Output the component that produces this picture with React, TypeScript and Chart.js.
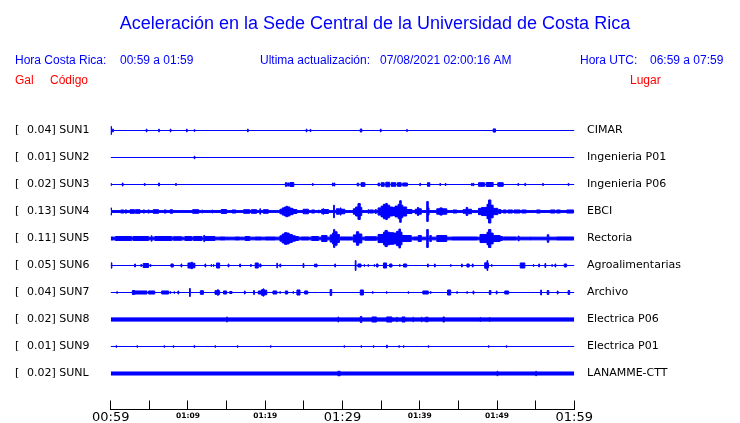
import React, { useEffect, useRef } from 'react';
import { Chart, registerables } from 'chart.js';

Chart.register(...registerables);

// ---------- text ----------
const TITLE = 'Aceleración en la Sede Central de la Universidad de Costa Rica';
const CR_LABEL = 'Hora Costa Rica:';
const CR_RANGE = '00:59 a 01:59';
const UPD_LABEL = 'Ultima actualización:';
const UPD_VALUE = '07/08/2021 02:00:16 AM';
const UTC_LABEL = 'Hora UTC:';
const UTC_RANGE = '06:59 a 07:59';
const COL_GAL = 'Gal';
const COL_CODE = 'Código';
const COL_PLACE = 'Lugar';

// ---------- stations ----------
const codes = ['SUN1', 'SUN2', 'SUN3', 'SUN4', 'SUN5', 'SUN6', 'SUN7', 'SUN8', 'SUN9', 'SUNL'];
const places = ['CIMAR', 'Ingenieria P01', 'Ingenieria P06', 'EBCI', 'Rectoria', 'Agroalimentarias', 'Archivo', 'Electrica P06', 'Electrica P01', 'LANAMME-CTT'];
const maxGal = [0.04, 0.01, 0.02, 0.13, 0.11, 0.05, 0.04, 0.02, 0.01, 0.02];
// background noise level (Gal, half amplitude)
const noiseGal = [0, 0, 0, 0.01, 0.015, 0, 0, 0.018, 0, 0.017];

// ---------- time axis (minutes from 00:59) ----------
const timeTicks = [0, 5, 10, 15, 20, 25, 30, 35, 40, 45, 50, 55, 60];
const timeTickLabels = ['00:59', '', '01:09', '', '01:19', '', '01:29', '', '01:39', '', '01:49', '', '01:59'];
const majorTicks = ['00:59', '01:29', '01:59'];

// ---------- amplitude envelopes: [start minute, end minute, half amplitude Gal] ----------
const sun1: number[][] = [[0, 0.1, 0.045], [0.2, 0.35, 0.015], [4.6, 4.7, 0.015], [6.2, 6.3, 0.015], [7.7, 7.8, 0.015], [9.8, 9.9, 0.015], [10.8, 10.9, 0.01], [17.7, 17.8, 0.015], [25.3, 25.4, 0.015], [25.8, 25.9, 0.012], [32.3, 32.5, 0.017], [34.9, 35, 0.015], [38.3, 38.4, 0.01], [49.5, 49.8, 0.018]];
const sun2: number[][] = [[10.8, 10.9, 0.014]];
const sun3: number[][] = [[0, 0.1, 0.011], [1.5, 1.6, 0.017], [4.35, 4.45, 0.011], [6.2, 6.3, 0.017], [8.4, 8.5, 0.011], [22.6, 22.8, 0.02], [22.9, 23.1, 0.017], [23.2, 23.7, 0.022], [26.1, 26.2, 0.011], [28.7, 28.8, 0.017], [28.9, 29, 0.017], [31.9, 32.1, 0.015], [32.4, 32.9, 0.02], [34.6, 34.8, 0.015], [35.0, 35.4, 0.02], [35.6, 36.1, 0.025], [36.3, 36.9, 0.02], [37.1, 37.6, 0.02], [37.8, 38.4, 0.017], [40, 40.1, 0.013], [41, 41.3, 0.02], [42.6, 42.7, 0.011], [43.3, 43.4, 0.011], [46.7, 46.8, 0.013], [46.9, 47, 0.013], [47.6, 48.4, 0.02], [48.6, 49.5, 0.022], [50.1, 50.8, 0.02], [52.7, 52.8, 0.011], [53.6, 53.7, 0.013], [55.9, 56, 0.011], [59.2, 59.3, 0.011]];
const sun4: number[][] = [[0, 0.1, 0.04], [1.3, 1.7, 0.017], [1.85, 2.1, 0.017], [2.5, 3.1, 0.02], [3.2, 3.8, 0.02], [4.2, 4.4, 0.017], [4.8, 5.0, 0.017], [5.5, 6.2, 0.02], [6.9, 7.2, 0.017], [7.7, 8.0, 0.02], [9.2, 9.3, 0.013], [10.6, 11.4, 0.02], [11.8, 11.9, 0.017], [13.1, 13.2, 0.017], [14.3, 15.0, 0.022], [15.7, 16.2, 0.017], [17.2, 18.0, 0.02], [18.2, 18.9, 0.02], [19.3, 19.4, 0.03], [19.75, 20.4, 0.02], [21.5, 21.6, 0.013], [21.9, 22.2, 0.025], [22.2, 22.5, 0.04], [22.5, 22.7, 0.05], [22.7, 22.9, 0.058], [22.9, 23.2, 0.05], [23.2, 23.6, 0.035], [23.6, 24.1, 0.022], [24.9, 25.6, 0.025], [26.0, 26.4, 0.017], [26.9, 27.0, 0.017], [27.3, 27.5, 0.025], [27.5, 27.6, 0.03], [27.6, 28.2, 0.022], [28.85, 28.95, 0.07], [29.2, 29.6, 0.03], [29.7, 29.8, 0.04], [29.8, 30.3, 0.025], [31.4, 31.7, 0.03], [31.7, 32.0, 0.05], [32.0, 32.3, 0.088], [32.3, 32.5, 0.045], [33.3, 33.4, 0.02], [33.5, 34.0, 0.017], [34.2, 34.4, 0.02], [34.6, 35.0, 0.04], [35.0, 35.3, 0.06], [35.3, 35.6, 0.08], [35.6, 35.8, 0.09], [35.8, 36.1, 0.07], [36.1, 36.5, 0.05], [36.5, 36.8, 0.045], [36.8, 37.2, 0.06], [37.2, 37.4, 0.08], [37.4, 37.6, 0.12], [37.6, 37.8, 0.07], [37.8, 38.3, 0.05], [38.3, 39.0, 0.022], [39.4, 39.7, 0.025], [39.7, 39.85, 0.045], [39.85, 40.2, 0.03], [40.9, 41.1, 0.11], [41.1, 41.2, 0.04], [42.2, 42.6, 0.03], [42.6, 42.9, 0.04], [42.9, 43.5, 0.03], [44.3, 44.8, 0.017], [45.6, 46.0, 0.02], [46.0, 46.2, 0.045], [46.2, 46.7, 0.025], [47.6, 48.0, 0.035], [48.0, 48.7, 0.045], [48.7, 48.9, 0.08], [48.9, 49.2, 0.128], [49.2, 49.5, 0.07], [49.5, 50.1, 0.035], [50.2, 50.5, 0.022], [50.8, 51.2, 0.017], [51.4, 52.0, 0.017], [52.2, 53.0, 0.017], [53.2, 53.8, 0.017], [55.1, 55.6, 0.017], [56.9, 57.5, 0.017], [57.7, 58.2, 0.017], [59.0, 59.9, 0.017]];
const sun5: number[][] = [[0, 0.3, 0.017], [0.6, 2.7, 0.022], [2.9, 4.9, 0.022], [5.25, 5.35, 0.03], [5.7, 7.9, 0.022], [8.1, 9.2, 0.02], [9.6, 10.5, 0.022], [10.7, 11.8, 0.022], [12.05, 12.15, 0.035], [12.2, 13.5, 0.022], [14.1, 14.8, 0.017], [15.0, 15.1, 0.017], [16.1, 16.7, 0.017], [17.4, 18.0, 0.022], [18.7, 19.5, 0.017], [20.0, 21.3, 0.017], [21.9, 22.2, 0.03], [22.2, 22.5, 0.05], [22.5, 22.8, 0.065], [22.8, 23.1, 0.06], [23.1, 23.5, 0.045], [23.5, 23.9, 0.03], [23.9, 24.3, 0.022], [24.7, 25.6, 0.017], [26.0, 26.9, 0.022], [27.3, 28.0, 0.033], [28.4, 28.7, 0.04], [28.7, 28.85, 0.06], [28.85, 29.0, 0.1], [29.0, 29.3, 0.075], [29.3, 29.6, 0.045], [29.7, 31.2, 0.017], [31.4, 31.8, 0.04], [31.8, 32.1, 0.075], [32.1, 32.5, 0.05], [32.9, 34.4, 0.02], [34.6, 35.3, 0.045], [35.3, 35.5, 0.07], [35.5, 35.8, 0.09], [35.8, 36.1, 0.07], [36.1, 36.6, 0.065], [36.6, 37.0, 0.06], [37.0, 37.3, 0.08], [37.3, 37.5, 0.105], [37.5, 37.7, 0.07], [37.7, 38.9, 0.033], [39.2, 39.8, 0.017], [39.8, 40.2, 0.033], [40.9, 41.1, 0.1], [41.3, 41.5, 0.033], [42.2, 43.5, 0.033], [44.1, 47.4, 0.017], [47.8, 48.7, 0.045], [48.7, 48.9, 0.07], [48.9, 49.2, 0.1], [49.2, 49.5, 0.06], [49.5, 50.4, 0.033], [50.4, 50.7, 0.022], [50.8, 52.5, 0.017], [52.75, 52.85, 0.028], [54.3, 54.4, 0.017], [56.5, 56.7, 0.042], [57.7, 59.9, 0.017]];
const sun6: number[][] = [[0.05, 0.15, 0.03], [3.1, 3.2, 0.017], [3.9, 4.0, 0.011], [4.2, 4.9, 0.022], [5.1, 5.2, 0.011], [7.8, 8.1, 0.017], [9.1, 9.2, 0.017], [10.0, 10.4, 0.028], [10.4, 10.6, 0.035], [10.6, 10.9, 0.025], [12.2, 12.3, 0.017], [13.0, 13.05, 0.011], [13.3, 13.35, 0.011], [13.7, 14.1, 0.028], [15.2, 15.3, 0.017], [16.7, 16.8, 0.017], [18.1, 18.2, 0.011], [18.7, 19.1, 0.028], [19.3, 19.45, 0.017], [21.5, 21.6, 0.025], [21.9, 22.0, 0.017], [24.9, 25.0, 0.022], [26.4, 26.5, 0.017], [26.6, 26.7, 0.017], [29.0, 29.1, 0.017], [31.65, 31.75, 0.055], [32.0, 32.4, 0.017], [32.8, 32.85, 0.011], [33.3, 33.35, 0.011], [34.1, 34.15, 0.011], [34.4, 34.6, 0.017], [35.3, 35.7, 0.028], [36.1, 36.4, 0.017], [37.4, 37.45, 0.011], [37.9, 38.3, 0.017], [41.0, 41.1, 0.017], [41.9, 42.0, 0.017], [44.0, 44.05, 0.011], [45.4, 45.5, 0.017], [46.1, 46.4, 0.017], [46.8, 46.9, 0.017], [48.4, 48.7, 0.03], [48.7, 48.8, 0.055], [48.8, 48.9, 0.025], [49.3, 49.35, 0.011], [53.0, 53.6, 0.028], [54.7, 54.75, 0.011], [55.4, 55.5, 0.017], [56.2, 56.3, 0.022], [57.1, 57.15, 0.011], [57.5, 57.6, 0.017], [58.7, 59.0, 0.017]];
const sun7: number[][] = [[0.8, 0.85, 0.011], [2.8, 3.1, 0.022], [3.1, 4.7, 0.017], [4.9, 5.7, 0.017], [6.6, 7.5, 0.017], [7.7, 7.75, 0.011], [8.2, 8.25, 0.011], [8.7, 8.8, 0.017], [10.2, 10.3, 0.045], [11.6, 12.0, 0.02], [13.5, 13.8, 0.02], [13.8, 13.95, 0.03], [13.95, 14.1, 0.02], [14.6, 15.0, 0.017], [15.4, 15.7, 0.011], [17.3, 17.4, 0.017], [18.5, 18.6, 0.022], [19.1, 19.5, 0.017], [19.5, 19.7, 0.03], [19.7, 19.85, 0.04], [19.85, 20.2, 0.025], [21.0, 21.5, 0.017], [21.9, 21.95, 0.011], [22.6, 22.9, 0.017], [23.6, 23.65, 0.011], [24.1, 24.5, 0.028], [25.1, 25.5, 0.017], [28.4, 28.6, 0.033], [32.3, 32.7, 0.028], [33.9, 33.95, 0.011], [35.7, 35.75, 0.011], [38.5, 38.55, 0.011], [40.4, 41.1, 0.017], [41.4, 41.45, 0.011], [43.6, 44.0, 0.028], [44.8, 44.85, 0.011], [46.1, 46.15, 0.011], [46.9, 47.0, 0.017], [49.0, 49.2, 0.022], [49.9, 50.0, 0.017], [51.0, 51.5, 0.017], [55.65, 55.75, 0.028], [56.5, 56.7, 0.022], [57.8, 57.9, 0.017], [59.2, 59.4, 0.022]];
const sun8: number[][] = [[15.0, 15.1, 0.028], [29.4, 29.5, 0.028], [32.3, 32.5, 0.033], [33.8, 34.4, 0.028], [35.7, 36.4, 0.028], [37.0, 37.1, 0.025], [37.7, 38.1, 0.028], [39.1, 39.2, 0.025], [40.2, 40.3, 0.025], [40.7, 41.1, 0.025], [43.0, 43.2, 0.028], [47.8, 47.9, 0.022], [49.0, 49.1, 0.022]];
const sun9: number[][] = [[0.7, 0.75, 0.011], [3.4, 3.45, 0.01], [6.9, 6.95, 0.01], [8.1, 8.15, 0.01], [10.8, 10.85, 0.012], [13.5, 13.55, 0.01], [16.4, 16.45, 0.01], [20.7, 20.75, 0.01], [30.2, 30.25, 0.01], [32.4, 32.45, 0.01], [34.0, 34.05, 0.01], [35.7, 35.8, 0.015], [37.3, 37.35, 0.01], [37.9, 37.95, 0.01], [41.1, 41.15, 0.01], [48.9, 48.95, 0.01], [51.2, 51.25, 0.01]];
const sunl: number[][] = [[29.4, 29.7, 0.025], [50.0, 50.1, 0.025], [55.0, 55.1, 0.025]];

const traces = [sun1, sun2, sun3, sun4, sun5, sun6, sun7, sun8, sun9, sunl];

// ---------- layout / style constants ----------
const SLOT = 0.3; // Gal between trace baselines
const BLUE = '#0000ff';
const RED = '#ff0000';
const T_END = 60;

function envelope(events: number[][], base: number, noise: number, sign: number) {
  const pts: { x: number; y: number }[] = [{ x: 0, y: base + sign * noise }];
  for (const [t0, t1, a] of events) {
    pts.push({ x: t0, y: base + sign * Math.max(a, noise) });
    pts.push({ x: t1, y: base + sign * noise });
  }
  pts.push({ x: T_END, y: base + sign * noise });
  return pts;
}

const textPlugin = {
  id: 'seismoText',
  afterDraw(chart: any) {
    const ctx = chart.ctx as CanvasRenderingContext2D;
    const ys = chart.scales.y;
    const area = chart.chartArea;
    ctx.save();
    ctx.fillStyle = BLUE;
    ctx.textBaseline = 'alphabetic';
    ctx.textAlign = 'center';
    ctx.font = '18px "Liberation Sans", Arial, sans-serif';
    ctx.fillText(TITLE, 375, 29);

    ctx.textAlign = 'left';
    ctx.textBaseline = 'middle';
    ctx.font = '12px "Liberation Sans", Arial, sans-serif';
    ctx.fillText(CR_LABEL, 15, 60.5);
    ctx.fillText(CR_RANGE, 120, 60.5);
    ctx.fillText(UPD_LABEL, 260, 60.5);
    ctx.fillText(UPD_VALUE, 380, 60.5);
    ctx.fillText(UTC_LABEL, 580, 60.5);
    ctx.fillText(UTC_RANGE, 650, 60.5);

    ctx.fillStyle = RED;
    ctx.fillText(COL_GAL, 15, 80.5);
    ctx.fillText(COL_CODE, 50, 80.5);
    ctx.fillText(COL_PLACE, 630, 80.5);

    ctx.fillStyle = '#000';
    ctx.font = '11px "DejaVu Sans", sans-serif';
    codes.forEach((c, i) => {
      const py = ys.getPixelForValue(i * SLOT);
      ctx.fillText('[', 15, py);
      ctx.fillText(`${maxGal[i].toFixed(2)}] ${c}`, 27, py);
      ctx.fillText(places[i], area.right + 12.7, py);
    });
    ctx.restore();
  },
};

export default function App() {
  const ref = useRef<HTMLCanvasElement>(null);
  useEffect(() => {
    if (!ref.current) return;
    const datasets: any[] = [];
    traces.forEach((ev, i) => {
      const base = i * SLOT;
      const common = {
        borderColor: BLUE,
        backgroundColor: BLUE,
        borderWidth: 1,
        pointRadius: 0,
        tension: 0,
        stepped: true,
      };
      datasets.push({ ...common, label: codes[i], data: envelope(ev, base, noiseGal[i], -1), fill: '+1' });
      datasets.push({ ...common, label: codes[i] + ' lower', data: envelope(ev, base, noiseGal[i], 1), fill: false });
    });
    const chart = new Chart(ref.current, {
      type: 'line',
      data: { datasets },
      options: {
        animation: false,
        responsive: true,
        maintainAspectRatio: false,
        devicePixelRatio: 1,
        parsing: false as any,
        layout: { padding: { left: 110.7, right: 165.7, top: 103.5, bottom: 0 } },
        plugins: { legend: { display: false }, tooltip: { enabled: false }, title: { display: false } },
        scales: {
          x: {
            type: 'linear',
            position: 'bottom',
            min: 0,
            max: T_END,
            afterBuildTicks: (s: any) => {
              s.ticks = timeTicks.map((v) => ({ value: v }));
            },
            afterFit: (s: any) => {
              s.height = 13.5;
            },
            ticks: {
              autoSkip: false,
              maxRotation: 0,
              padding: 9,
              color: '#000',
              callback: (v: any) => timeTickLabels[timeTicks.indexOf(Number(v))] ?? '',
              font: (ctx: any) => {
                const lbl = timeTickLabels[timeTicks.indexOf(ctx.tick?.value)];
                return majorTicks.includes(lbl)
                  ? { family: '"DejaVu Sans", sans-serif', size: 13, lineHeight: 1.2 }
                  : { family: '"DejaVu Sans", sans-serif', size: 7.5, weight: 'bold', lineHeight: '13px' };
              },
            },
            grid: { drawOnChartArea: false, drawTicks: true, tickLength: -9, color: '#000', lineWidth: 1 },
            border: { display: true, color: '#000', width: 1 },
          },
          y: {
            type: 'linear',
            display: false,
            reverse: true,
            min: -SLOT,
            max: 9 * SLOT + 0.4,
          },
        },
      },
      plugins: [textPlugin],
    });
    return () => chart.destroy();
  }, []);
  return (
    <div style={{ position: 'absolute', left: 0, top: 0, width: 740, height: 423 }}>
      <canvas ref={ref} />
    </div>
  );
}
